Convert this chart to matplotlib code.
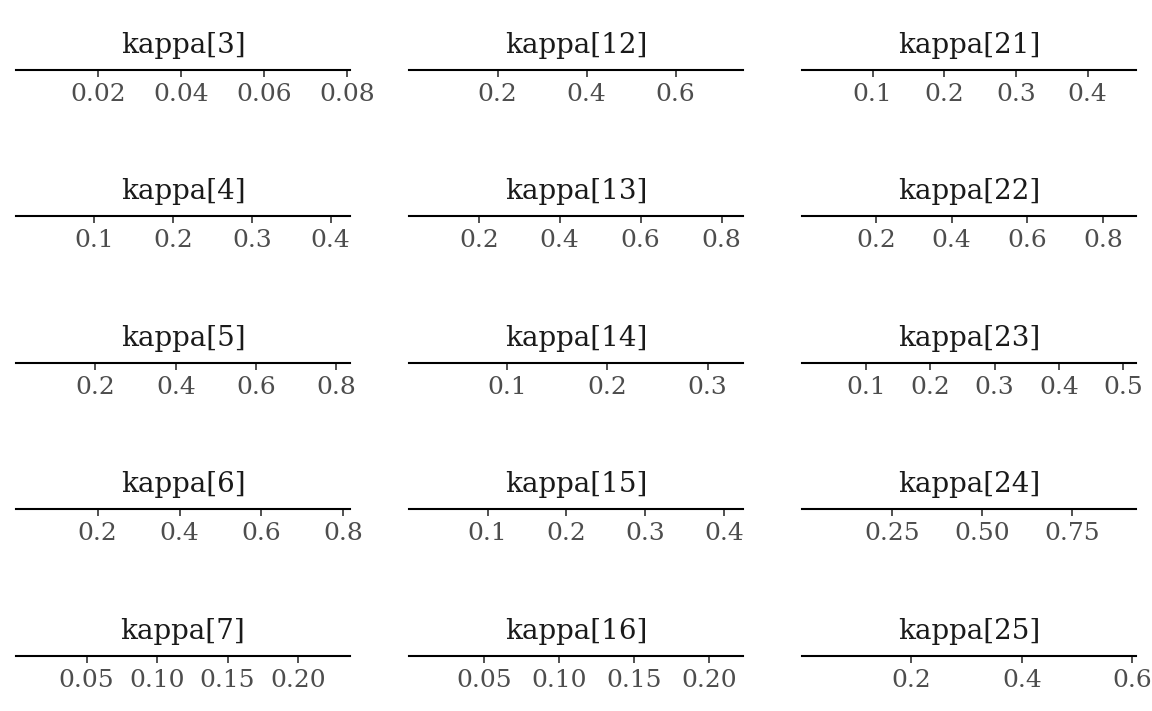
import matplotlib
matplotlib.use("Agg")
import matplotlib.pyplot as plt
from matplotlib.ticker import FixedLocator, FormatStrFormatter

# panel titles, in column-major order (3 columns x 5 rows)
titles = ["kappa[3]", "kappa[4]", "kappa[5]", "kappa[6]", "kappa[7]",
          "kappa[12]", "kappa[13]", "kappa[14]", "kappa[15]", "kappa[16]",
          "kappa[21]", "kappa[22]", "kappa[23]", "kappa[24]", "kappa[25]"]

# x-axis ranges
x_min = [0.0002, 0.0006, 0.002, 0.001, 0.0,
         0.0004, 0.0277, 0.0027, 0.0001, 0.0,
         0.0015, 0.004, 0.0006, 0.0004, 0.002]
x_max = [0.0807, 0.4246, 0.834, 0.816, 0.2368,
         0.7516, 0.8526, 0.3352, 0.4242, 0.2227,
         0.4675, 0.8876, 0.520, 0.928, 0.6068]

# tick values per panel
ticks = [[0.02, 0.04, 0.06, 0.08], [0.1, 0.2, 0.3, 0.4], [0.2, 0.4, 0.6, 0.8],
         [0.2, 0.4, 0.6, 0.8], [0.05, 0.10, 0.15, 0.20],
         [0.2, 0.4, 0.6], [0.2, 0.4, 0.6, 0.8], [0.1, 0.2, 0.3],
         [0.1, 0.2, 0.3, 0.4], [0.05, 0.10, 0.15, 0.20],
         [0.1, 0.2, 0.3, 0.4], [0.2, 0.4, 0.6, 0.8], [0.1, 0.2, 0.3, 0.4, 0.5],
         [0.25, 0.50, 0.75], [0.2, 0.4, 0.6]]
tick_fmt = ["%.2f", "%.1f", "%.1f", "%.1f", "%.2f",
            "%.1f", "%.1f", "%.1f", "%.1f", "%.2f",
            "%.1f", "%.1f", "%.1f", "%.2f", "%.1f"]

W, H = 1152, 711
fig = plt.figure(figsize=(W / 100, H / 100), dpi=100)
plt.rcParams['font.family'] = ['DejaVu Serif']

col_left = [16, 409, 802]
col_width = 334
row_axis_y = [69.5, 216, 362.5, 509, 655.5]
ax_h = 30

for i, title in enumerate(titles):
    c = i // 5
    r = i % 5
    left = col_left[c] / W
    bottom = (H - row_axis_y[r]) / H
    ax = fig.add_axes([left, bottom, col_width / W, ax_h / H])
    ax.set_xlim(x_min[i], x_max[i])
    ax.set_ylim(0, 1)
    for s in ["top", "left", "right"]:
        ax.spines[s].set_visible(False)
    ax.spines["bottom"].set_linewidth(1.5)
    ax.spines["bottom"].set_color("black")
    ax.set_yticks([])
    ax.patch.set_alpha(0)
    ax.xaxis.set_major_locator(FixedLocator(ticks[i]))
    ax.xaxis.set_major_formatter(FormatStrFormatter(tick_fmt[i]))
    ax.tick_params(axis="x", length=5, width=1.2, color="#333333",
                   labelcolor="#4d4d4d", labelsize=18, pad=4.5)
    ax.text(0.5, 0.8, title, transform=ax.transAxes, ha="center", va="center",
            fontsize=20, color="#1a1a1a")

fig.savefig("out.png", dpi=100)
